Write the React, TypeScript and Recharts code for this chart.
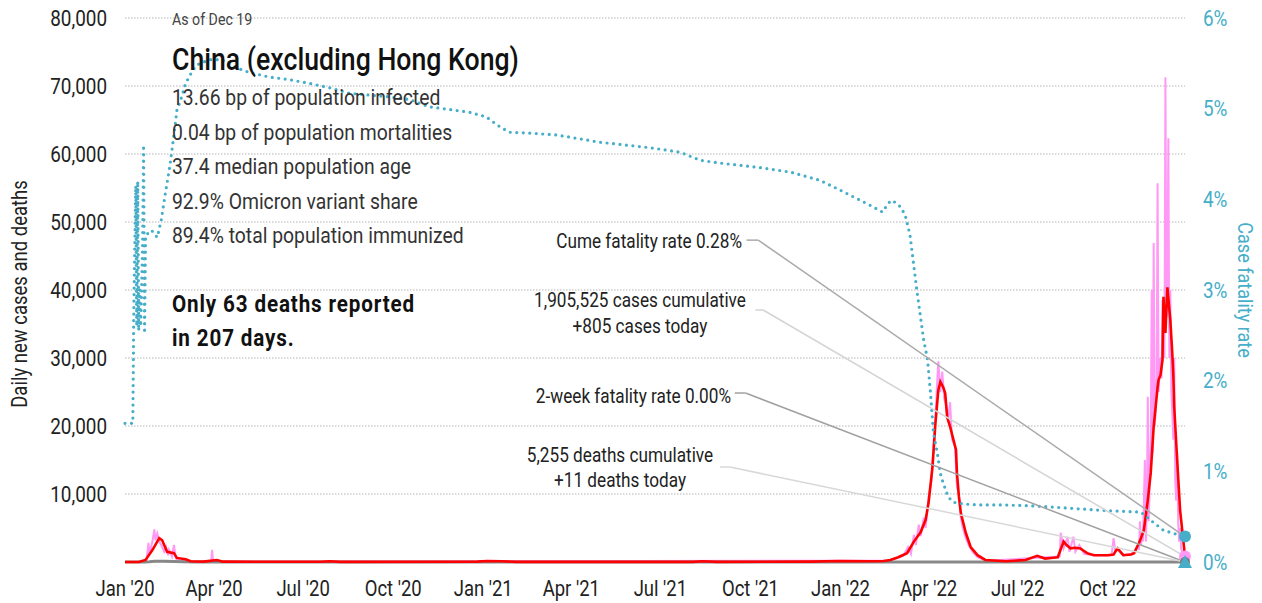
import React from 'react';
import { LineChart, Line, XAxis, YAxis, CartesianGrid, ReferenceLine, ReferenceDot } from 'recharts';

const FONT = "Roboto, 'Noto Sans', sans-serif";
const SX = 0.86; // horizontal condensing of the text

// ---- axes ----
const xTickDays = [0, 91, 182, 274, 366, 456, 547, 639, 731, 821, 912, 1004];
const xTickLabels = ["Jan '20", "Apr '20", "Jul '20", "Oct '20", "Jan '21", "Apr '21", "Jul '21", "Oct '21", "Jan '22", "Apr '22", "Jul '22", "Oct '22"];
const leftTicks = [10000, 20000, 30000, 40000, 50000, 60000, 70000, 80000];
const rightTicks = [0, 1, 2, 3, 4, 5, 6];
const LAST_DAY = 1083; // Dec 19 2022, days since Jan 1 2020

// ---- case fatality rate (%) ----
const cfrDays = [0, 8, 9, 11, 12, 13, 14, 15, 16, 18, 19, 20, 21, 27, 33, 37, 41, 46, 50, 53, 57, 62, 68, 73, 86, 99, 114, 127, 147, 168, 188, 209, 229, 250, 270, 291, 311, 332, 352, 369, 383, 393, 414, 441, 485, 536, 567, 588, 608, 649, 680, 710, 731, 762, 774, 780, 784, 792, 797, 802, 809, 816, 820, 823, 826, 830, 833, 836, 841, 846, 857, 871, 895, 925, 956, 997, 1038, 1048, 1061, 1076, 1083];
const cfrValues = [1.53, 1.53, 2.8, 4.15, 2.6, 4.2, 2.55, 3.0, 2.6, 3.5, 4.6, 2.52, 3.6, 3.66, 3.58, 3.77, 4.05, 4.38, 4.71, 4.98, 5.1, 5.28, 5.4, 5.48, 5.54, 5.54, 5.45, 5.4, 5.35, 5.32, 5.28, 5.23, 5.17, 5.15, 5.13, 5.1, 5.02, 4.99, 4.96, 4.91, 4.8, 4.74, 4.73, 4.71, 4.63, 4.57, 4.52, 4.43, 4.4, 4.35, 4.3, 4.21, 4.1, 3.93, 3.86, 3.96, 3.99, 3.92, 3.83, 3.61, 3.0, 2.45, 2.23, 1.86, 1.42, 1.2, 0.98, 0.87, 0.72, 0.66, 0.64, 0.63, 0.63, 0.62, 0.6, 0.57, 0.55, 0.46, 0.35, 0.3, 0.28];

// ---- 7-day average new cases ----
const avgDays = [0, 14, 21, 28, 35, 38, 43, 50, 53, 62, 67, 80, 94, 100, 200, 209, 220, 360, 370, 385, 400, 580, 590, 605, 700, 730, 760, 775, 782, 790, 799, 806, 813, 818, 821, 825, 828, 831, 833, 836, 838, 840, 843, 849, 850, 852, 854, 859, 864, 871, 879, 900, 920, 932, 940, 946, 953, 959, 962, 966, 971, 976, 983, 990, 1004, 1010, 1014, 1017, 1020, 1028, 1031, 1034, 1036, 1038, 1041, 1045, 1048, 1051, 1055, 1056, 1058, 1060, 1061, 1063, 1065, 1068, 1070, 1071, 1072, 1075, 1078, 1082, 1083];
const avgValues = [0, 0, 300, 1760, 3500, 3200, 1500, 1300, 600, 400, 100, 50, 300, 50, 30, 100, 20, 50, 150, 100, 20, 20, 100, 20, 50, 150, 100, 150, 300, 700, 1300, 3000, 4400, 6200, 8700, 14000, 20400, 25300, 26500, 25700, 24800, 21300, 19900, 16500, 13100, 9600, 7200, 4300, 2200, 1000, 300, 100, 300, 900, 500, 600, 700, 3000, 2500, 2000, 2100, 2000, 1300, 1000, 1000, 1100, 2000, 1500, 1000, 1100, 1300, 2200, 2800, 3500, 4700, 9100, 13100, 19900, 25700, 26800, 27500, 29700, 39000, 33700, 40400, 35600, 30700, 27800, 22800, 15000, 7600, 2200, 805];

// ---- daily new cases ----
const dailyDays = [0, 20, 22, 24, 25, 28, 30, 31, 33, 35, 37, 40, 42, 44, 45, 48, 50, 52, 55, 60, 70, 88, 89, 90, 100, 780, 782, 795, 800, 803, 806, 808, 811, 813, 816, 818, 821, 824, 826, 828, 830, 831, 833, 835, 837, 839, 841, 843, 845, 848, 850, 852, 854, 856, 859, 862, 866, 871, 880, 955, 956, 959, 963, 965, 969, 971, 975, 980, 990, 1008, 1010, 1012, 1015, 1020, 1028, 1031, 1034, 1035, 1036, 1037, 1038, 1039, 1040, 1041, 1042, 1043, 1044, 1045, 1046, 1047, 1048, 1049, 1050, 1051, 1052, 1053, 1054, 1055, 1056, 1057, 1058, 1059, 1060, 1061, 1062, 1063, 1064, 1065, 1066, 1067, 1068, 1069, 1070, 1071, 1072, 1073, 1074, 1075, 1076, 1077, 1078, 1079, 1080, 1081, 1082, 1083];
const dailyValues = [0, 0, 300, 2800, 1200, 3000, 4800, 3200, 4200, 3000, 2500, 1500, 2200, 1000, 1800, 800, 2500, 500, 300, 200, 50, 50, 1800, 100, 30, 200, 300, 900, 2200, 1200, 4000, 2500, 5500, 3800, 6500, 5000, 9500, 12000, 17000, 21000, 27000, 29500, 25000, 28000, 24000, 23000, 21000, 23500, 18000, 17000, 11000, 10000, 6500, 5000, 3500, 2500, 1500, 700, 200, 800, 4300, 2000, 3700, 1500, 3700, 1500, 2500, 1200, 1000, 1000, 3500, 1500, 2000, 1000, 1200, 1500, 2200, 2500, 1800, 6000, 2500, 4300, 3000, 9000, 15000, 3000, 8000, 24300, 6000, 12000, 18000, 40000, 16000, 46900, 20000, 22000, 27000, 55700, 25000, 28000, 30000, 27000, 38500, 35000, 30000, 71300, 36000, 40000, 62300, 30000, 40000, 25000, 22000, 18000, 30000, 12000, 9000, 16000, 6000, 3000, 5000, 2000, 1500, 1200, 900, 805];

// ---- daily deaths ----
const deathDays = [0, 20, 25, 30, 40, 50, 60, 70, 1083];
const deathValues = [0, 0, 40, 100, 120, 60, 20, 5, 11];

// ---- latest values (Dec 19) ----
const latestCfr = 0.28;
const latestCases = 805;
const latestTwoWeekCfr = 0.0;
const latestDeaths = 11;

// ---- text ----
const asOf = 'As of Dec 19';
const title = 'China (excluding Hong Kong)';
const stats = ['13.66 bp of population infected', '0.04 bp of population mortalities', '37.4 median population age', '92.9% Omicron variant share', '89.4% total population immunized'];
const note = ['Only 63 deaths reported', 'in 207 days.'];
const yLabelLeft = 'Daily new cases and deaths';
const yLabelRight = 'Case fatality rate';

const zip = (d: number[], v: number[]) => d.map((day, i) => ({ day, v: v[i] }));
const cfrData = zip(cfrDays, cfrValues);
const avgData = zip(avgDays, avgValues);
const dailyData = zip(dailyDays, dailyValues);
const deathData = zip(deathDays, deathValues);

const TEAL = '#46aec8';
const PINK = '#ff99f5';
const pctToLeft = (p: number) => (p / 6) * 80000;

// callout anchors (annotation layout, in axis units)
const calloutCume = { x0: 635, x1: 647, y: 3.55 };
const calloutCases = { x0: 644, x1: 652, y: 37060 };
const calloutTwoWeek = { x0: 623, x1: 634, y: 24850 };
const calloutDeaths = { x0: 608, x1: 618, y: 13970 };

type CTProps = { x: number; y: number; size: number; fill?: string; anchor?: 'start' | 'middle' | 'end'; weight?: any; rotate?: number; spacing?: number; children: React.ReactNode };
const CText = ({ x, y, size, fill = '#222', anchor = 'start', weight = 'normal', rotate = 0, spacing = 0, children }: CTProps) => (
  <text
    transform={`translate(${x},${y})${rotate ? ` rotate(${rotate})` : ''} scale(${SX},1)`}
    fontFamily={FONT}
    fontSize={size}
    fill={fill}
    textAnchor={anchor}
    fontWeight={weight}
    letterSpacing={spacing}
  >
    {children}
  </text>
);

const XTick = (props: any) => {
  const { x, y, payload } = props;
  return <CText x={x} y={y + 15} size={21.5} anchor="middle" fill="#222">{xTickLabels[xTickDays.indexOf(payload.value)]}</CText>;
};
const LeftTick = (props: any) => {
  const { x, y, payload } = props;
  return <CText x={x} y={y + 7.5} size={22} anchor="end" fill="#222">{payload.value.toLocaleString('en-US')}</CText>;
};
const RightTick = (props: any) => {
  const { x, y, payload } = props;
  return <CText x={x} y={y + 7.5} size={22} anchor="start" fill={TEAL}>{`${payload.value}%`}</CText>;
};

const Triangle = (props: any) => {
  const { cx, cy } = props;
  return <polygon points={`${cx - 7},${cy + 6} ${cx + 7},${cy + 6} ${cx},${cy - 7}`} fill={TEAL} />;
};

export default function App() {
  return (
    <div style={{ position: 'absolute', left: 0, top: 0, width: 1262, height: 603, background: '#fff' }}>
      <LineChart width={1262} height={603} margin={{ top: 18, right: 0, bottom: 0, left: 0 }}>
        <CartesianGrid vertical={false} stroke="#b5b5b5" strokeDasharray="1.5 1.5" />
        <XAxis
          dataKey="day"
          type="number"
          domain={[0, LAST_DAY]}
          ticks={xTickDays}
          axisLine={false}
          tickLine={false}
          tickSize={0}
          tickMargin={19}
          height={41}
          tick={XTick}
          allowDuplicatedCategory={false}
        />
        <YAxis
          domain={[0, 80000]}
          ticks={leftTicks}
          axisLine={false}
          tickLine={false}
          tickSize={0}
          tickMargin={18}
          width={125}
          tick={LeftTick}
        />
        <YAxis
          yAxisId="right"
          orientation="right"
          domain={[0, 6]}
          ticks={rightTicks}
          axisLine={false}
          tickLine={false}
          tickSize={0}
          tickMargin={18}
          width={77}
          tick={RightTick}
        />
        <Line data={dailyData} dataKey="v" stroke={PINK} strokeWidth={2} dot={false} isAnimationActive={false} />
        <Line data={deathData} dataKey="v" stroke="#888" strokeWidth={3} dot={false} isAnimationActive={false} />
        <Line data={avgData} dataKey="v" stroke="#ff0000" strokeWidth={2.6} dot={false} isAnimationActive={false} />
        <Line data={cfrData} dataKey="v" yAxisId="right" stroke={TEAL} strokeWidth={3.2} strokeDasharray="0 6.5" strokeLinecap="round" dot={false} isAnimationActive={false} />

        <ReferenceLine yAxisId="right" segment={[{ x: calloutCume.x0, y: calloutCume.y }, { x: calloutCume.x1, y: calloutCume.y }]} stroke="#aaa" strokeWidth={1.5} />
        <ReferenceLine yAxisId="right" segment={[{ x: calloutCume.x1, y: calloutCume.y }, { x: LAST_DAY, y: latestCfr }]} stroke="#aaa" strokeWidth={1.5} />
        <ReferenceLine segment={[{ x: calloutCases.x0, y: calloutCases.y }, { x: calloutCases.x1, y: calloutCases.y }]} stroke="#d4d4d4" strokeWidth={1.5} />
        <ReferenceLine segment={[{ x: calloutCases.x1, y: calloutCases.y }, { x: LAST_DAY, y: latestCases }]} stroke="#d4d4d4" strokeWidth={1.5} />
        <ReferenceLine segment={[{ x: calloutTwoWeek.x0, y: calloutTwoWeek.y }, { x: calloutTwoWeek.x1, y: calloutTwoWeek.y }]} stroke="#a0a0a0" strokeWidth={1.5} />
        <ReferenceLine segment={[{ x: calloutTwoWeek.x1, y: calloutTwoWeek.y }, { x: LAST_DAY, y: pctToLeft(latestTwoWeekCfr) }]} stroke="#a0a0a0" strokeWidth={1.5} />
        <ReferenceLine segment={[{ x: calloutDeaths.x0, y: calloutDeaths.y }, { x: calloutDeaths.x1, y: calloutDeaths.y }]} stroke="#d8d8d8" strokeWidth={1.5} />
        <ReferenceLine segment={[{ x: calloutDeaths.x1, y: calloutDeaths.y }, { x: LAST_DAY, y: latestDeaths }]} stroke="#d8d8d8" strokeWidth={1.5} />

        <ReferenceDot x={LAST_DAY} y={latestCfr} yAxisId="right" r={6} fill={TEAL} stroke="none" />
        <ReferenceDot x={LAST_DAY} y={latestCases} r={6} fill={PINK} stroke="none" />
        <ReferenceDot x={LAST_DAY} y={latestDeaths} r={5} fill="#777" stroke="none" />
        <ReferenceDot x={LAST_DAY} y={latestTwoWeekCfr} yAxisId="right" r={6} shape={Triangle} />
      </LineChart>

      <svg width={1262} height={603} style={{ position: 'absolute', left: 0, top: 0, pointerEvents: 'none' }}>
        <CText x={172} y={25} size={16.5} fill="#444">{asOf}</CText>
        <CText x={172} y={70} size={31} weight={500} fill="#111">{title}</CText>
        {stats.map((s, i) => (
          <CText key={s} x={172} y={105 + i * 34.5} size={22.5} fill="#333">{s}</CText>
        ))}
        {note.map((s, i) => (
          <CText key={s} x={172} y={312 + i * 34} size={24} weight="bold" spacing={1} fill="#111">{s}</CText>
        ))}
        <CText x={742} y={248} size={20} anchor="end">Cume fatality rate 0.28%</CText>
        <CText x={640} y={307} size={20} anchor="middle">1,905,525 cases cumulative</CText>
        <CText x={640} y={333} size={20} anchor="middle">+805 cases today</CText>
        <CText x={731} y={403} size={20} anchor="end">2-week fatality rate 0.00%</CText>
        <CText x={620} y={462} size={20} anchor="middle">5,255 deaths cumulative</CText>
        <CText x={620} y={487} size={20} anchor="middle">+11 deaths today</CText>
        <CText x={27} y={294} size={21.5} anchor="middle" rotate={-90}>{yLabelLeft}</CText>
        <CText x={1238} y={290} size={21} anchor="middle" rotate={90} fill={TEAL}>{yLabelRight}</CText>
      </svg>
    </div>
  );
}
